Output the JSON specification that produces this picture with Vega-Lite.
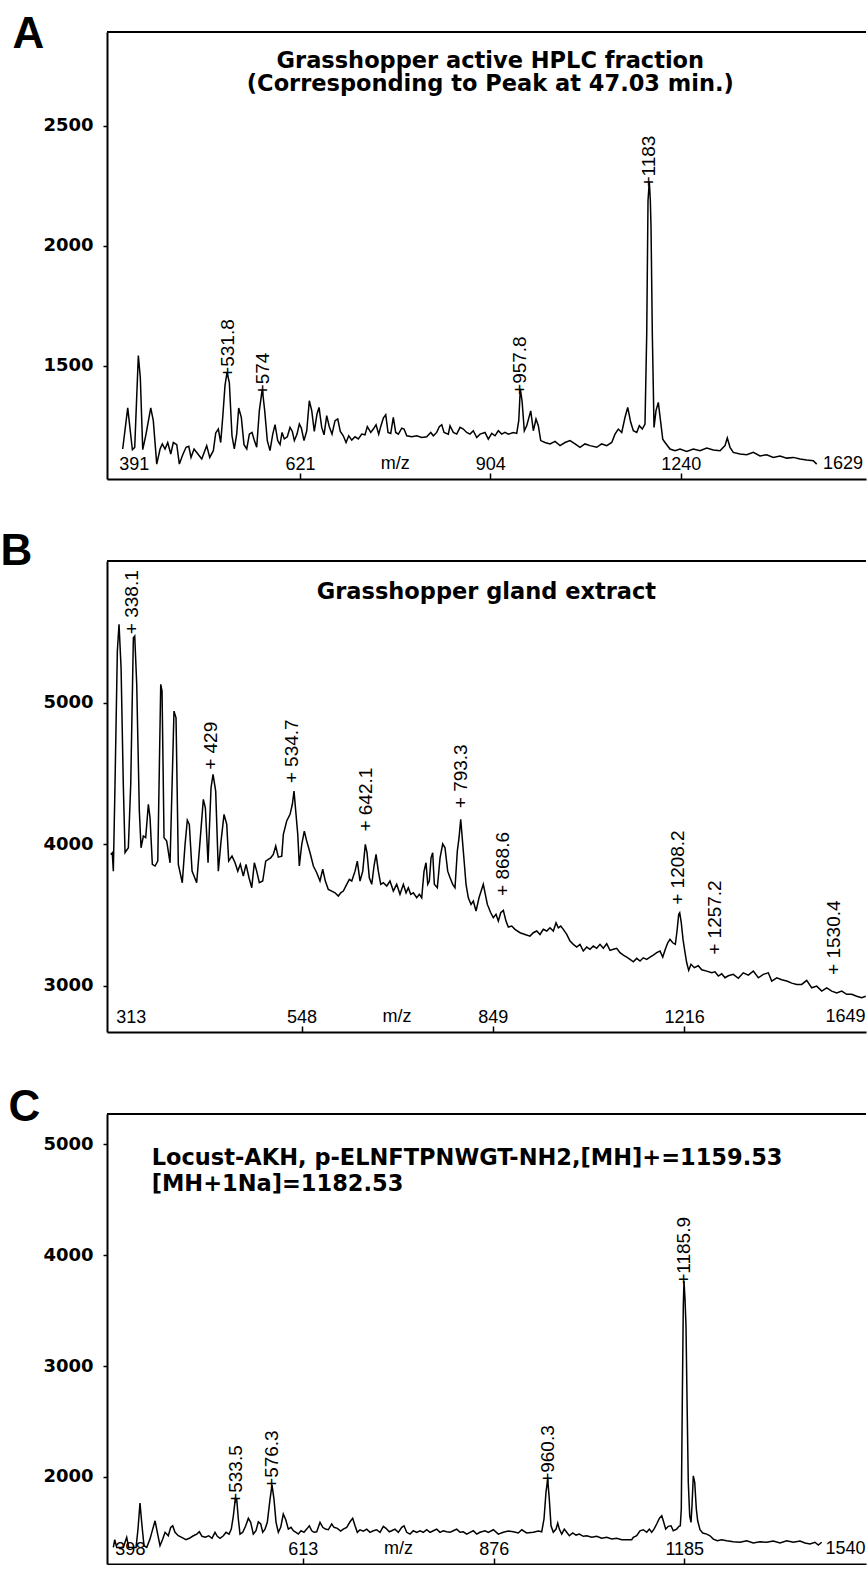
{
  "$schema": "https://vega.github.io/schema/vega-lite/v6.json",
  "background": "white",
  "padding": {"left": 0, "top": 12, "right": 0, "bottom": 0},
  "bounds": "flush",
  "spacing": 82,
  "config": {
    "view": {"stroke": null},
    "numberFormat": "d",
    "axisX": {"grid": false, "domainColor": "black", "domainWidth": 2, "tickSize": -6, "tickColor": "black", "tickWidth": 1.5, "labelPadding": -4, "labelBaseline": "alphabetic", "labelFont": "Liberation Sans", "labelFontSize": 18, "labelColor": "black", "labelFlush": false, "labelOverlap": false, "labelBound": false},
    "axisY": {"grid": false, "domainColor": "black", "domainWidth": 2, "tickSize": 4, "tickColor": "black", "tickWidth": 1.5, "labelPadding": 10, "labelFont": "DejaVu Sans", "labelFontSize": 18, "labelFontWeight": "bold", "labelColor": "black", "labelFlush": false, "labelOverlap": false, "titleAngle": 0, "titleAlign": "left", "titleBaseline": "alphabetic", "titleFont": "Liberation Sans", "titleFontSize": 44, "titleFontWeight": "bold", "titleColor": "black"}
  },
  "datasets": {
    "specA": [
      {"mz":405.0,"int":1153},{"mz":410.5,"int":1324},{"mz":415.6,"int":1150},{"mz":418.2,"int":1160},{"mz":422.2,"int":1542},{"mz":424.4,"int":1451},{"mz":427.1,"int":1150},{"mz":430.8,"int":1215},{"mz":436.1,"int":1324},{"mz":439.0,"int":1271},{"mz":442.9,"int":1090},{"mz":446.7,"int":1153},{"mz":449.3,"int":1174},{"mz":452.4,"int":1153},{"mz":455.5,"int":1180},{"mz":459.0,"int":1132},{"mz":462.0,"int":1180},{"mz":466.0,"int":1171},{"mz":469.0,"int":1090},{"mz":473.0,"int":1129},{"mz":476.9,"int":1160},{"mz":480.1,"int":1164},{"mz":482.8,"int":1118},{"mz":486.4,"int":1153},{"mz":490.3,"int":1135},{"mz":495.6,"int":1111},{"mz":501.6,"int":1167},{"mz":505.3,"int":1118},{"mz":509.7,"int":1146},{"mz":512.6,"int":1220},{"mz":515.8,"int":1236},{"mz":518.7,"int":1180},{"mz":521.2,"int":1285},{"mz":524.0,"int":1417},{"mz":526.5,"int":1472},{"mz":529.4,"int":1430},{"mz":532.7,"int":1208},{"mz":535.6,"int":1153},{"mz":538.6,"int":1215},{"mz":541.1,"int":1324},{"mz":544.4,"int":1285},{"mz":547.8,"int":1171},{"mz":551.3,"int":1153},{"mz":554.6,"int":1215},{"mz":558.0,"int":1222},{"mz":561.0,"int":1188},{"mz":564.0,"int":1160},{"mz":567.4,"int":1313},{"mz":571.2,"int":1403},{"mz":574.3,"int":1313},{"mz":577.7,"int":1188},{"mz":581.2,"int":1146},{"mz":584.8,"int":1215},{"mz":587.8,"int":1254},{"mz":591.3,"int":1188},{"mz":594.4,"int":1171},{"mz":597.0,"int":1222},{"mz":600.0,"int":1195},{"mz":604.0,"int":1204},{"mz":607.6,"int":1243},{"mz":610.7,"int":1226},{"mz":613.4,"int":1188},{"mz":617.0,"int":1215},{"mz":620.1,"int":1257},{"mz":622.8,"int":1240},{"mz":626.4,"int":1188},{"mz":630.1,"int":1229},{"mz":633.6,"int":1354},{"mz":636.9,"int":1313},{"mz":640.4,"int":1226},{"mz":644.1,"int":1299},{"mz":646.9,"int":1326},{"mz":650.6,"int":1243},{"mz":653.8,"int":1212},{"mz":657.5,"int":1292},{"mz":661.1,"int":1246},{"mz":664.9,"int":1215},{"mz":669.1,"int":1271},{"mz":672.9,"int":1278},{"mz":676.5,"int":1226},{"mz":680.7,"int":1208},{"mz":684.6,"int":1180},{"mz":688.4,"int":1208},{"mz":692.7,"int":1190},{"mz":697.4,"int":1204},{"mz":702.1,"int":1195},{"mz":707.0,"int":1215},{"mz":711.7,"int":1212},{"mz":715.0,"int":1246},{"mz":720.0,"int":1222},{"mz":723.7,"int":1236},{"mz":727.7,"int":1254},{"mz":731.6,"int":1215},{"mz":734.5,"int":1246},{"mz":738.4,"int":1282},{"mz":741.9,"int":1296},{"mz":745.3,"int":1222},{"mz":749.3,"int":1218},{"mz":753.1,"int":1285},{"mz":756.7,"int":1222},{"mz":760.6,"int":1215},{"mz":765.7,"int":1240},{"mz":769.1,"int":1236},{"mz":773.2,"int":1208},{"mz":780.7,"int":1204},{"mz":788.3,"int":1208},{"mz":795.9,"int":1201},{"mz":803.5,"int":1204},{"mz":809.7,"int":1222},{"mz":813.7,"int":1208},{"mz":818.9,"int":1222},{"mz":822.9,"int":1246},{"mz":826.7,"int":1254},{"mz":830.3,"int":1222},{"mz":837.0,"int":1215},{"mz":839.6,"int":1250},{"mz":844.8,"int":1222},{"mz":850.2,"int":1215},{"mz":855.4,"int":1243},{"mz":860.6,"int":1236},{"mz":866.0,"int":1222},{"mz":871.3,"int":1215},{"mz":876.5,"int":1229},{"mz":882.0,"int":1201},{"mz":887.3,"int":1215},{"mz":895.4,"int":1222},{"mz":900.7,"int":1194},{"mz":906.3,"int":1218},{"mz":911.6,"int":1208},{"mz":917.0,"int":1229},{"mz":922.6,"int":1215},{"mz":928.0,"int":1222},{"mz":933.5,"int":1215},{"mz":941.8,"int":1222},{"mz":947.4,"int":1218},{"mz":950.8,"int":1271},{"mz":953.4,"int":1403},{"mz":956.3,"int":1354},{"mz":960.1,"int":1229},{"mz":964.1,"int":1250},{"mz":970.9,"int":1312},{"mz":975.3,"int":1229},{"mz":979.8,"int":1278},{"mz":983.7,"int":1250},{"mz":987.8,"int":1188},{"mz":995.1,"int":1180},{"mz":1003.7,"int":1174},{"mz":1012.3,"int":1185},{"mz":1020.9,"int":1167},{"mz":1029.5,"int":1180},{"mz":1038.2,"int":1188},{"mz":1047.0,"int":1174},{"mz":1055.7,"int":1160},{"mz":1064.5,"int":1174},{"mz":1073.4,"int":1167},{"mz":1085.3,"int":1160},{"mz":1094.2,"int":1174},{"mz":1103.2,"int":1167},{"mz":1112.2,"int":1180},{"mz":1118.1,"int":1215},{"mz":1124.1,"int":1236},{"mz":1130.3,"int":1222},{"mz":1136.3,"int":1285},{"mz":1141.2,"int":1326},{"mz":1146.7,"int":1264},{"mz":1151.5,"int":1229},{"mz":1157.7,"int":1222},{"mz":1162.5,"int":1250},{"mz":1168.0,"int":1236},{"mz":1173.0,"int":1257},{"mz":1176.2,"int":1632},{"mz":1178.6,"int":2188},{"mz":1181.0,"int":2267},{"mz":1182.9,"int":2188},{"mz":1184.2,"int":2076},{"mz":1186.6,"int":1632},{"mz":1189.8,"int":1243},{"mz":1193.5,"int":1313},{"mz":1197.8,"int":1347},{"mz":1202.3,"int":1264},{"mz":1206.1,"int":1194},{"mz":1210.4,"int":1180},{"mz":1219.8,"int":1153},{"mz":1229.3,"int":1146},{"mz":1238.8,"int":1153},{"mz":1251.6,"int":1143},{"mz":1264.2,"int":1153},{"mz":1277.1,"int":1146},{"mz":1290.1,"int":1157},{"mz":1303.0,"int":1149},{"mz":1316.1,"int":1146},{"mz":1325.9,"int":1167},{"mz":1330.4,"int":1199},{"mz":1335.8,"int":1160},{"mz":1342.3,"int":1139},{"mz":1355.6,"int":1132},{"mz":1369.0,"int":1129},{"mz":1382.2,"int":1139},{"mz":1395.7,"int":1124},{"mz":1409.3,"int":1129},{"mz":1422.7,"int":1118},{"mz":1436.4,"int":1124},{"mz":1450.2,"int":1115},{"mz":1463.8,"int":1118},{"mz":1477.7,"int":1111},{"mz":1491.7,"int":1107},{"mz":1505.5,"int":1104},{"mz":1512.6,"int":1090}
    ],
    "peaksA": [
      {"mz":527.4,"int":1472,"label":"+531.8"},{"mz":572.5,"int":1399,"label":"+574"},{"mz":953.4,"int":1401,"label":"+957.8"},{"mz":1181.0,"int":2265,"label":"+1183"}
    ],
    "specB": [
      {"mz":313.0,"int":3929},{"mz":314.7,"int":3941},{"mz":315.8,"int":3811},{"mz":317.6,"int":4424},{"mz":320.1,"int":5365},{"mz":321.9,"int":5554},{"mz":324.1,"int":5247},{"mz":326.5,"int":4424},{"mz":328.4,"int":3941},{"mz":332.0,"int":3976},{"mz":334.6,"int":4424},{"mz":337.5,"int":5459},{"mz":339.0,"int":5471},{"mz":341.2,"int":5130},{"mz":344.1,"int":4235},{"mz":346.0,"int":3976},{"mz":348.6,"int":4059},{"mz":351.2,"int":4047},{"mz":354.2,"int":4283},{"mz":356.1,"int":4188},{"mz":358.7,"int":3859},{"mz":361.8,"int":3847},{"mz":364.9,"int":3882},{"mz":368.3,"int":5130},{"mz":369.8,"int":5083},{"mz":372.1,"int":4047},{"mz":375.2,"int":4023},{"mz":379.1,"int":3870},{"mz":383.7,"int":4941},{"mz":386.1,"int":4894},{"mz":388.8,"int":3859},{"mz":393.5,"int":3729},{"mz":396.8,"int":4000},{"mz":399.5,"int":4170},{"mz":401.9,"int":4141},{"mz":405.2,"int":3811},{"mz":410.8,"int":3729},{"mz":414.9,"int":4023},{"mz":418.9,"int":4318},{"mz":421.4,"int":4258},{"mz":424.7,"int":3870},{"mz":428.4,"int":4400},{"mz":430.9,"int":4494},{"mz":434.2,"int":4376},{"mz":437.5,"int":3811},{"mz":440.9,"int":4023},{"mz":444.7,"int":4212},{"mz":448.1,"int":4141},{"mz":450.6,"int":3882},{"mz":454.8,"int":3917},{"mz":458.7,"int":3870},{"mz":462.2,"int":3811},{"mz":465.5,"int":3859},{"mz":469.4,"int":3776},{"mz":472.9,"int":3859},{"mz":476.8,"int":3764},{"mz":480.4,"int":3694},{"mz":483.8,"int":3870},{"mz":486.9,"int":3811},{"mz":490.4,"int":3729},{"mz":494.9,"int":3741},{"mz":498.9,"int":3882},{"mz":502.4,"int":3894},{"mz":505.6,"int":3905},{"mz":509.1,"int":3929},{"mz":512.4,"int":3988},{"mz":515.9,"int":3910},{"mz":520.6,"int":3917},{"mz":522.8,"int":4071},{"mz":527.4,"int":4165},{"mz":532.0,"int":4212},{"mz":535.2,"int":4283},{"mz":537.5,"int":4376},{"mz":539.9,"int":4235},{"mz":542.7,"int":4071},{"mz":544.9,"int":3847},{"mz":548.3,"int":4000},{"mz":551.9,"int":4094},{"mz":555.3,"int":4023},{"mz":560.0,"int":3941},{"mz":564.7,"int":3847},{"mz":569.5,"int":3800},{"mz":574.2,"int":3741},{"mz":578.1,"int":3824},{"mz":581.9,"int":3741},{"mz":586.2,"int":3682},{"mz":591.2,"int":3670},{"mz":596.0,"int":3658},{"mz":600.8,"int":3635},{"mz":604.3,"int":3658},{"mz":608.2,"int":3670},{"mz":613.2,"int":3718},{"mz":617.1,"int":3753},{"mz":620.7,"int":3741},{"mz":625.6,"int":3811},{"mz":629.0,"int":3882},{"mz":633.1,"int":3741},{"mz":637.2,"int":3811},{"mz":641.1,"int":4000},{"mz":643.7,"int":3941},{"mz":647.2,"int":3764},{"mz":650.9,"int":3718},{"mz":654.4,"int":3847},{"mz":657.5,"int":3929},{"mz":661.0,"int":3811},{"mz":664.7,"int":3718},{"mz":668.7,"int":3729},{"mz":674.0,"int":3706},{"mz":679.1,"int":3741},{"mz":684.3,"int":3670},{"mz":689.6,"int":3718},{"mz":694.8,"int":3647},{"mz":700.1,"int":3718},{"mz":704.4,"int":3658},{"mz":708.0,"int":3694},{"mz":711.8,"int":3647},{"mz":716.0,"int":3658},{"mz":721.5,"int":3623},{"mz":725.7,"int":3647},{"mz":729.5,"int":3623},{"mz":733.3,"int":3811},{"mz":736.5,"int":3870},{"mz":739.3,"int":3718},{"mz":741.9,"int":3741},{"mz":744.7,"int":3905},{"mz":747.4,"int":3941},{"mz":750.1,"int":3718},{"mz":755.0,"int":3694},{"mz":759.5,"int":3905},{"mz":763.9,"int":4004},{"mz":767.7,"int":3976},{"mz":772.2,"int":3811},{"mz":776.1,"int":3764},{"mz":780.6,"int":3718},{"mz":784.4,"int":3694},{"mz":788.3,"int":3953},{"mz":791.2,"int":4047},{"mz":794.0,"int":4177},{"mz":798.4,"int":3953},{"mz":803.0,"int":3718},{"mz":806.9,"int":3623},{"mz":811.5,"int":3576},{"mz":815.4,"int":3600},{"mz":820.1,"int":3529},{"mz":825.2,"int":3623},{"mz":832.6,"int":3718},{"mz":839.6,"int":3576},{"mz":845.5,"int":3517},{"mz":850.0,"int":3482},{"mz":854.7,"int":3506},{"mz":858.8,"int":3458},{"mz":863.0,"int":3517},{"mz":867.6,"int":3534},{"mz":872.3,"int":3458},{"mz":876.4,"int":3416},{"mz":882.5,"int":3423},{"mz":888.3,"int":3400},{"mz":897.3,"int":3376},{"mz":906.3,"int":3364},{"mz":915.3,"int":3352},{"mz":921.3,"int":3376},{"mz":927.5,"int":3388},{"mz":933.5,"int":3364},{"mz":939.6,"int":3400},{"mz":945.9,"int":3388},{"mz":951.9,"int":3411},{"mz":958.1,"int":3388},{"mz":963.1,"int":3446},{"mz":967.4,"int":3411},{"mz":971.8,"int":3423},{"mz":976.7,"int":3400},{"mz":983.1,"int":3364},{"mz":989.3,"int":3317},{"mz":995.5,"int":3294},{"mz":1001.9,"int":3275},{"mz":1008.2,"int":3294},{"mz":1014.5,"int":3247},{"mz":1021.0,"int":3275},{"mz":1027.3,"int":3259},{"mz":1033.7,"int":3282},{"mz":1040.2,"int":3266},{"mz":1046.6,"int":3294},{"mz":1053.0,"int":3266},{"mz":1059.6,"int":3298},{"mz":1066.1,"int":3251},{"mz":1072.6,"int":3259},{"mz":1079.2,"int":3266},{"mz":1085.7,"int":3235},{"mz":1092.3,"int":3218},{"mz":1099.0,"int":3204},{"mz":1105.6,"int":3188},{"mz":1112.2,"int":3171},{"mz":1119.0,"int":3195},{"mz":1125.6,"int":3176},{"mz":1132.2,"int":3199},{"mz":1139.1,"int":3188},{"mz":1145.8,"int":3204},{"mz":1152.5,"int":3218},{"mz":1159.4,"int":3235},{"mz":1166.2,"int":3247},{"mz":1171.7,"int":3204},{"mz":1177.0,"int":3259},{"mz":1182.0,"int":3305},{"mz":1186.7,"int":3329},{"mz":1192.3,"int":3305},{"mz":1197.7,"int":3294},{"mz":1201.2,"int":3388},{"mz":1204.7,"int":3506},{"mz":1206.8,"int":3517},{"mz":1210.1,"int":3446},{"mz":1213.7,"int":3329},{"mz":1217.9,"int":3235},{"mz":1221.4,"int":3164},{"mz":1225.6,"int":3110},{"mz":1230.4,"int":3153},{"mz":1237.4,"int":3129},{"mz":1245.8,"int":3143},{"mz":1253.0,"int":3114},{"mz":1263.7,"int":3105},{"mz":1274.3,"int":3093},{"mz":1281.4,"int":3100},{"mz":1288.5,"int":3070},{"mz":1295.8,"int":3086},{"mz":1302.9,"int":3058},{"mz":1310.1,"int":3072},{"mz":1320.9,"int":3082},{"mz":1331.9,"int":3054},{"mz":1342.8,"int":3093},{"mz":1353.8,"int":3077},{"mz":1364.9,"int":3105},{"mz":1376.0,"int":3058},{"mz":1387.1,"int":3082},{"mz":1398.3,"int":3093},{"mz":1405.9,"int":3035},{"mz":1417.2,"int":3058},{"mz":1428.5,"int":3044},{"mz":1439.8,"int":3035},{"mz":1451.2,"int":3020},{"mz":1462.6,"int":3011},{"mz":1474.1,"int":3011},{"mz":1485.6,"int":3040},{"mz":1497.2,"int":2987},{"mz":1508.8,"int":2999},{"mz":1520.5,"int":2964},{"mz":1532.2,"int":2987},{"mz":1543.9,"int":2964},{"mz":1555.7,"int":2950},{"mz":1567.6,"int":2964},{"mz":1579.4,"int":2941},{"mz":1591.4,"int":2941},{"mz":1603.3,"int":2927},{"mz":1615.4,"int":2917},{"mz":1625.0,"int":2927}
    ],
    "peaksB": [
      {"mz":335.7,"int":5523,"label":"+ 338.1"},{"mz":428.4,"int":4565,"label":"+ 429"},{"mz":535.2,"int":4470,"label":"+ 534.7"},{"mz":641.7,"int":4129,"label":"+ 642.1"},{"mz":794.0,"int":4294,"label":"+ 793.3"},{"mz":866.5,"int":3675,"label":"+ 868.6"},{"mz":1203.9,"int":3612,"label":"+ 1208.2"},{"mz":1281.4,"int":3259,"label":"+ 1257.2"},{"mz":1550.0,"int":3117,"label":"+ 1530.4"}
    ],
    "specC": [
      {"mz":398.5,"int":1363},{"mz":399.9,"int":1432},{"mz":401.9,"int":1363},{"mz":408.6,"int":1363},{"mz":412.1,"int":1454},{"mz":414.2,"int":1363},{"mz":421.8,"int":1363},{"mz":423.8,"int":1528},{"mz":425.9,"int":1763},{"mz":428.0,"int":1558},{"mz":430.1,"int":1378},{"mz":433.0,"int":1363},{"mz":436.4,"int":1438},{"mz":439.3,"int":1528},{"mz":441.8,"int":1603},{"mz":444.2,"int":1499},{"mz":447.1,"int":1378},{"mz":450.0,"int":1438},{"mz":452.5,"int":1499},{"mz":456.0,"int":1468},{"mz":458.6,"int":1544},{"mz":460.8,"int":1558},{"mz":463.3,"int":1499},{"mz":466.9,"int":1468},{"mz":470.6,"int":1454},{"mz":475.4,"int":1432},{"mz":479.0,"int":1445},{"mz":483.5,"int":1468},{"mz":487.3,"int":1483},{"mz":490.2,"int":1504},{"mz":493.2,"int":1463},{"mz":496.9,"int":1454},{"mz":500.8,"int":1468},{"mz":504.5,"int":1445},{"mz":507.9,"int":1499},{"mz":510.6,"int":1463},{"mz":513.7,"int":1445},{"mz":517.5,"int":1468},{"mz":520.6,"int":1499},{"mz":524.1,"int":1483},{"mz":526.7,"int":1528},{"mz":529.1,"int":1648},{"mz":531.4,"int":1805},{"mz":533.0,"int":1799},{"mz":534.9,"int":1619},{"mz":536.9,"int":1483},{"mz":540.1,"int":1499},{"mz":543.6,"int":1558},{"mz":546.7,"int":1625},{"mz":549.5,"int":1589},{"mz":552.6,"int":1483},{"mz":555.8,"int":1513},{"mz":558.6,"int":1594},{"mz":561.5,"int":1574},{"mz":563.9,"int":1499},{"mz":566.6,"int":1528},{"mz":569.4,"int":1589},{"mz":572.7,"int":1799},{"mz":575.1,"int":1925},{"mz":577.5,"int":1799},{"mz":580.0,"int":1589},{"mz":582.8,"int":1499},{"mz":585.7,"int":1544},{"mz":588.9,"int":1664},{"mz":591.9,"int":1612},{"mz":595.1,"int":1528},{"mz":598.4,"int":1544},{"mz":601.3,"int":1513},{"mz":604.6,"int":1499},{"mz":607.5,"int":1483},{"mz":610.9,"int":1513},{"mz":614.6,"int":1499},{"mz":618.0,"int":1528},{"mz":621.3,"int":1558},{"mz":624.4,"int":1513},{"mz":627.3,"int":1499},{"mz":630.7,"int":1504},{"mz":634.9,"int":1589},{"mz":638.4,"int":1544},{"mz":641.7,"int":1528},{"mz":645.5,"int":1522},{"mz":649.9,"int":1574},{"mz":652.9,"int":1544},{"mz":657.2,"int":1535},{"mz":661.6,"int":1510},{"mz":665.0,"int":1528},{"mz":669.4,"int":1544},{"mz":673.8,"int":1594},{"mz":677.3,"int":1625},{"mz":680.4,"int":1558},{"mz":683.4,"int":1499},{"mz":687.0,"int":1522},{"mz":691.4,"int":1510},{"mz":695.9,"int":1528},{"mz":700.3,"int":1499},{"mz":704.8,"int":1513},{"mz":709.3,"int":1522},{"mz":713.8,"int":1499},{"mz":718.3,"int":1553},{"mz":721.9,"int":1535},{"mz":726.4,"int":1504},{"mz":729.7,"int":1513},{"mz":734.2,"int":1528},{"mz":738.8,"int":1499},{"mz":743.5,"int":1544},{"mz":746.6,"int":1558},{"mz":750.4,"int":1499},{"mz":755.0,"int":1483},{"mz":759.6,"int":1513},{"mz":764.3,"int":1499},{"mz":769.0,"int":1513},{"mz":773.6,"int":1499},{"mz":778.4,"int":1522},{"mz":783.1,"int":1499},{"mz":787.8,"int":1513},{"mz":792.6,"int":1528},{"mz":797.3,"int":1499},{"mz":802.0,"int":1513},{"mz":806.9,"int":1504},{"mz":811.7,"int":1499},{"mz":816.4,"int":1513},{"mz":821.4,"int":1528},{"mz":826.2,"int":1499},{"mz":831.0,"int":1504},{"mz":836.0,"int":1483},{"mz":840.8,"int":1499},{"mz":845.7,"int":1513},{"mz":850.7,"int":1483},{"mz":855.5,"int":1499},{"mz":863.0,"int":1513},{"mz":867.9,"int":1499},{"mz":875.4,"int":1522},{"mz":882.9,"int":1483},{"mz":890.4,"int":1499},{"mz":898.0,"int":1510},{"mz":905.6,"int":1504},{"mz":913.2,"int":1493},{"mz":918.5,"int":1522},{"mz":926.1,"int":1493},{"mz":936.4,"int":1499},{"mz":944.1,"int":1510},{"mz":949.4,"int":1504},{"mz":953.0,"int":1619},{"mz":956.1,"int":1859},{"mz":958.8,"int":1979},{"mz":961.3,"int":1799},{"mz":964.0,"int":1558},{"mz":967.6,"int":1499},{"mz":971.9,"int":1528},{"mz":974.6,"int":1583},{"mz":977.1,"int":1528},{"mz":980.9,"int":1483},{"mz":985.0,"int":1528},{"mz":988.8,"int":1499},{"mz":993.0,"int":1468},{"mz":998.4,"int":1493},{"mz":1003.7,"int":1474},{"mz":1009.0,"int":1483},{"mz":1015.5,"int":1463},{"mz":1021.0,"int":1468},{"mz":1029.1,"int":1454},{"mz":1037.2,"int":1463},{"mz":1045.4,"int":1445},{"mz":1053.6,"int":1454},{"mz":1061.8,"int":1438},{"mz":1070.1,"int":1445},{"mz":1078.4,"int":1432},{"mz":1086.7,"int":1432},{"mz":1095.1,"int":1432},{"mz":1097.8,"int":1454},{"mz":1103.5,"int":1468},{"mz":1109.1,"int":1513},{"mz":1114.6,"int":1522},{"mz":1120.4,"int":1499},{"mz":1124.8,"int":1528},{"mz":1128.9,"int":1499},{"mz":1132.8,"int":1528},{"mz":1137.4,"int":1574},{"mz":1141.9,"int":1625},{"mz":1146.0,"int":1648},{"mz":1148.7,"int":1603},{"mz":1152.8,"int":1528},{"mz":1157.3,"int":1553},{"mz":1162.0,"int":1558},{"mz":1165.9,"int":1513},{"mz":1171.8,"int":1528},{"mz":1175.8,"int":1553},{"mz":1178.1,"int":1558},{"mz":1179.8,"int":1709},{"mz":1181.6,"int":2701},{"mz":1183.3,"int":3542},{"mz":1184.5,"int":3767},{"mz":1186.3,"int":3602},{"mz":1188.0,"int":3362},{"mz":1189.8,"int":2701},{"mz":1192.0,"int":1950},{"mz":1194.5,"int":1648},{"mz":1196.8,"int":1589},{"mz":1198.5,"int":1739},{"mz":1200.8,"int":2009},{"mz":1203.3,"int":1950},{"mz":1206.1,"int":1709},{"mz":1208.5,"int":1603},{"mz":1212.6,"int":1522},{"mz":1217.4,"int":1493},{"mz":1224.4,"int":1483},{"mz":1230.3,"int":1468},{"mz":1236.2,"int":1438},{"mz":1243.3,"int":1423},{"mz":1251.2,"int":1432},{"mz":1260.1,"int":1423},{"mz":1272.0,"int":1414},{"mz":1284.2,"int":1409},{"mz":1296.4,"int":1423},{"mz":1308.4,"int":1402},{"mz":1320.7,"int":1414},{"mz":1333.1,"int":1409},{"mz":1345.3,"int":1420},{"mz":1357.8,"int":1402},{"mz":1370.3,"int":1423},{"mz":1382.8,"int":1409},{"mz":1395.4,"int":1420},{"mz":1404.9,"int":1402},{"mz":1414.4,"int":1393},{"mz":1423.9,"int":1409},{"mz":1430.2,"int":1384},{"mz":1436.8,"int":1409}
    ],
    "peaksC": [
      {"mz":532.2,"int":1805,"label":"+533.5"},{"mz":575.5,"int":1940,"label":"+576.3"},{"mz":958.8,"int":1986,"label":"+960.3"},{"mz":1185.0,"int":3783,"label":"+1185.9"}
    ]
  },
  "vconcat": [
    {
      "width": 759, "height": 447,
      "layer": [
        {
          "data": {"name": "specA"},
          "mark": {"type": "line", "color": "black", "strokeWidth": 1.5},
          "encoding": {
            "x": {"field": "mz", "type": "quantitative", "scale": {"type": "sqrt", "domain": [388.1, 1618.1], "zero": false, "nice": false},
              "axis": {"values": [391, 621, 904, 1240], "title": null, "format": "d",
                "labelAlign": {"condition": {"test": "datum.value == 391", "value": "left"}, "value": "center"},
                "labelOffset": {"condition": {"test": "datum.value == 391", "value": 9}, "value": 0},
                "tickOpacity": {"condition": {"test": "datum.value == 391", "value": 0}, "value": 1}}},
            "y": {"field": "int", "type": "quantitative", "scale": {"domain": [1028, 2890], "zero": false, "nice": false},
              "axis": {"values": [1500, 2000, 2500], "format": "d", "title": "A", "titleX": -95, "titleY": 15}}
          }
        },
        {
          "data": {"name": "peaksA"},
          "mark": {"type": "text", "angle": 270, "align": "left", "baseline": "middle", "dx": -5.5, "font": "Liberation Sans", "fontSize": 19, "color": "black"},
          "encoding": {"x": {"field": "mz", "type": "quantitative"}, "y": {"field": "int", "type": "quantitative"}, "text": {"field": "label"}}
        },
        {
          "data": {"values": [{"mz": 904, "int": 2740, "label": "Grasshopper active HPLC fraction"}, {"mz": 904, "int": 2644, "label": "(Corresponding to Peak at 47.03 min.)"}]},
          "mark": {"type": "text", "align": "center", "baseline": "alphabetic", "font": "DejaVu Sans", "fontWeight": "bold", "fontSize": 22.5, "color": "black"},
          "encoding": {"x": {"field": "mz", "type": "quantitative"}, "y": {"field": "int", "type": "quantitative"}, "text": {"field": "label"}}
        },
        {
          "data": {"values": [{"mz": 756, "label": "m/z"}]},
          "mark": {"type": "text", "align": "center", "baseline": "alphabetic", "dy": -10, "font": "Liberation Sans", "fontSize": 18, "color": "black"},
          "encoding": {"x": {"field": "mz", "type": "quantitative"}, "y": {"datum": 1028}, "text": {"field": "label"}}
        },
        {
          "data": {"values": [{"mz": 1629, "label": "1629"}]},
          "mark": {"type": "text", "align": "right", "baseline": "alphabetic", "dx": -8, "dy": -10, "font": "Liberation Sans", "fontSize": 18, "color": "black"},
          "encoding": {"x": {"field": "mz", "type": "quantitative"}, "y": {"datum": 1028}, "text": {"field": "label"}}
        },
        {
          "data": {"values": [{}]},
          "mark": {"type": "rule", "color": "black", "strokeWidth": 2},
          "encoding": {"y": {"datum": 2890}}
        }
      ]
    },
    {
      "width": 759, "height": 471,
      "layer": [
        {
          "data": {"name": "specB"},
          "mark": {"type": "line", "color": "black", "strokeWidth": 1.5},
          "encoding": {
            "x": {"field": "mz", "type": "quantitative", "scale": {"type": "sqrt", "domain": [309.1, 1625.7], "zero": false, "nice": false},
              "axis": {"values": [313, 548, 849, 1216], "title": null, "format": "d",
                "labelAlign": {"condition": {"test": "datum.value == 313", "value": "left"}, "value": "center"},
                "labelOffset": {"condition": {"test": "datum.value == 313", "value": 5}, "value": 0},
                "tickOpacity": {"condition": {"test": "datum.value == 313", "value": 0}, "value": 1}}},
            "y": {"field": "int", "type": "quantitative", "scale": {"domain": [2675, 6001], "zero": false, "nice": false},
              "axis": {"values": [3000, 4000, 5000], "format": "d", "title": "B", "titleX": -107, "titleY": 3}}
          }
        },
        {
          "data": {"name": "peaksB"},
          "mark": {"type": "text", "angle": 270, "align": "left", "baseline": "middle", "dx": -5.5, "font": "Liberation Sans", "fontSize": 19, "color": "black"},
          "encoding": {"x": {"field": "mz", "type": "quantitative"}, "y": {"field": "int", "type": "quantitative"}, "text": {"field": "label"}}
        },
        {
          "data": {"values": [{"mz": 838, "int": 5730, "label": "Grasshopper gland extract"}]},
          "mark": {"type": "text", "align": "center", "baseline": "alphabetic", "font": "DejaVu Sans", "fontWeight": "bold", "fontSize": 22.5, "color": "black"},
          "encoding": {"x": {"field": "mz", "type": "quantitative"}, "y": {"field": "int", "type": "quantitative"}, "text": {"field": "label"}}
        },
        {
          "data": {"values": [{"mz": 690, "label": "m/z"}]},
          "mark": {"type": "text", "align": "center", "baseline": "alphabetic", "dy": -10, "font": "Liberation Sans", "fontSize": 18, "color": "black"},
          "encoding": {"x": {"field": "mz", "type": "quantitative"}, "y": {"datum": 2675}, "text": {"field": "label"}}
        },
        {
          "data": {"values": [{"mz": 1649, "label": "1649"}]},
          "mark": {"type": "text", "align": "right", "baseline": "alphabetic", "dx": -10, "dy": -10, "font": "Liberation Sans", "fontSize": 18, "color": "black"},
          "encoding": {"x": {"field": "mz", "type": "quantitative"}, "y": {"datum": 2675}, "text": {"field": "label"}}
        },
        {
          "data": {"values": [{}]},
          "mark": {"type": "rule", "color": "black", "strokeWidth": 2},
          "encoding": {"y": {"datum": 6001}}
        }
      ]
    },
    {
      "width": 759, "height": 450,
      "layer": [
        {
          "data": {"name": "specC"},
          "mark": {"type": "line", "color": "black", "strokeWidth": 1.5},
          "encoding": {
            "x": {"field": "mz", "type": "quantitative", "scale": {"type": "sqrt", "domain": [392.1, 1523.1], "zero": false, "nice": false},
              "axis": {"values": [398, 613, 876, 1185], "title": null, "format": "d",
                "labelAlign": {"condition": {"test": "datum.value == 398", "value": "left"}, "value": "center"},
                "labelOffset": {"condition": {"test": "datum.value == 398", "value": 2}, "value": 0},
                "tickOpacity": {"condition": {"test": "datum.value == 398", "value": 0}, "value": 1}}},
            "y": {"field": "int", "type": "quantitative", "scale": {"domain": [1213, 5275], "zero": false, "nice": false},
              "axis": {"values": [2000, 3000, 4000, 5000], "format": "d", "title": "C", "titleX": -99, "titleY": 6}}
          }
        },
        {
          "data": {"name": "peaksC"},
          "mark": {"type": "text", "angle": 270, "align": "left", "baseline": "middle", "dx": -5.5, "font": "Liberation Sans", "fontSize": 19, "color": "black"},
          "encoding": {"x": {"field": "mz", "type": "quantitative"}, "y": {"field": "int", "type": "quantitative"}, "text": {"field": "label"}}
        },
        {
          "data": {"values": [{"mz": 438.2, "int": 4813, "label": "Locust-AKH, p-ELNFTPNWGT-NH2,[MH]+=1159.53"}, {"mz": 438.2, "int": 4579, "label": "[MH+1Na]=1182.53"}]},
          "mark": {"type": "text", "align": "left", "baseline": "alphabetic", "font": "DejaVu Sans", "fontWeight": "bold", "fontSize": 22.5, "color": "black"},
          "encoding": {"x": {"field": "mz", "type": "quantitative"}, "y": {"field": "int", "type": "quantitative"}, "text": {"field": "label"}}
        },
        {
          "data": {"values": [{"mz": 739, "label": "m/z"}]},
          "mark": {"type": "text", "align": "center", "baseline": "alphabetic", "dy": -10, "font": "Liberation Sans", "fontSize": 18, "color": "black"},
          "encoding": {"x": {"field": "mz", "type": "quantitative"}, "y": {"datum": 1213}, "text": {"field": "label"}}
        },
        {
          "data": {"values": [{"mz": 1540, "label": "1540"}]},
          "mark": {"type": "text", "align": "right", "baseline": "alphabetic", "dx": -9, "dy": -10, "font": "Liberation Sans", "fontSize": 18, "color": "black"},
          "encoding": {"x": {"field": "mz", "type": "quantitative"}, "y": {"datum": 1213}, "text": {"field": "label"}}
        },
        {
          "data": {"values": [{}]},
          "mark": {"type": "rule", "color": "black", "strokeWidth": 2},
          "encoding": {"y": {"datum": 5275}}
        }
      ]
    }
  ]
}
